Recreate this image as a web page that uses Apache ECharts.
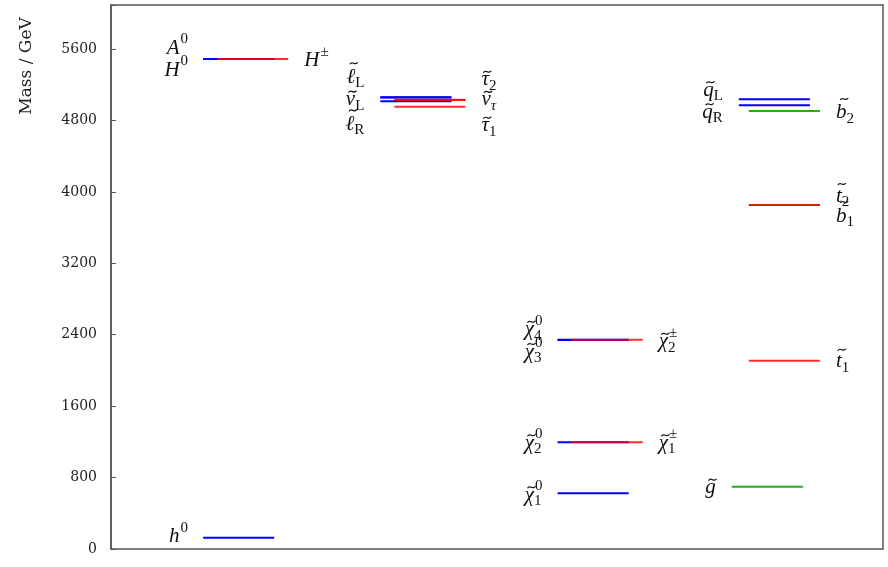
<!DOCTYPE html>
<html>
<head>
<meta charset="utf-8">
<script src="https://cdn.jsdelivr.net/npm/echarts@6/dist/echarts.min.js"></script>
<style>
  html, body { margin: 0; padding: 0; background: #fff; }
  #spectrum { width: 888px; height: 567px; }
</style>
</head>
<body>
<div id="spectrum"></div>
<script>
// particle spectrum data
var particles = ['h0', 'H0', 'A0', 'Hpm',
  'eL', 'nuL', 'eR', 'tau2', 'nutau', 'tau1',
  'chi10', 'chi20', 'chi30', 'chi40', 'chi1pm', 'chi2pm',
  'qL', 'qR', 'b2', 't2', 'b1', 't1', 'gluino'];
var masses = [125, 5488, 5488, 5489,
  5060, 5056, 5014, 5032, 5030, 4954,
  624, 1195, 2341, 2343, 1195, 2343,
  5037, 4970, 4906, 3853, 3852, 2109, 698];
// label pieces: base glyph, superscript, subscript
var labelBase = ['h', 'H', 'A', 'H',
  'ℓ̃', 'ν̃', 'ℓ̃', 'τ̃', 'ν̃', 'τ̃',
  'χ̃', 'χ̃', 'χ̃', 'χ̃', 'χ̃', 'χ̃',
  'q̃', 'q̃', 'b̃', 't̃', 'b̃', 't̃', 'g̃'];
var labelSup = ['0', '0', '0', '±',
  '', '', '', '', '', '',
  '0', '0', '0', '0', '±', '±',
  '', '', '', '', '', '', ''];
var labelSub = ['', '', '', '',
  'L', 'L', 'R', '2', 'τ', '1',
  '1', '2', '3', '4', '1', '2',
  'L', 'R', '2', '2', '1', '1', ''];
var yTicks = [0, 800, 1600, 2400, 3200, 4000, 4800, 5600];

// layout: line start (x axis units), label side, label offset (px), colour
var BLUE = '#0000ff', RED = 'rgba(255,0,0,0.82)', GREEN = '#1fb01f';
var layout = {
  h0: [92, 'l', -1, BLUE], H0: [92, 'l', 11, BLUE], A0: [92, 'l', -11, BLUE], Hpm: [106, 'r', 2, RED],
  eL: [269, 'l', -20, BLUE], nuL: [269, 'l', 2, BLUE], eR: [269, 'l', 23, BLUE],
  tau2: [283, 'r', -20, RED], nutau: [283, 'r', 0, RED], tau1: [283, 'r', 19, RED],
  chi10: [446, 'l', 2, BLUE], chi20: [446, 'l', 1, BLUE], chi30: [446, 'l', 12, BLUE], chi40: [446, 'l', -10, BLUE],
  chi1pm: [460, 'r', 1, RED], chi2pm: [460, 'r', 2, RED],
  qL: [627, 'l', -9, BLUE], qR: [627, 'l', 7, BLUE], b2: [637, 'r', 2, GREEN],
  t2: [637, 'r', -9, RED], b1: [637, 'r', 11, GREEN], t1: [637, 'r', 1, RED],
  gluino: [620, 'l', 1, GREEN]
};
var LINE_LEN = 71;

var SERIF = '"Liberation Serif", "DejaVu Serif", serif';
var BASE_FONT = 'italic 21px ' + SERIF;
var SMALL_FONT = '15px ' + SERIF;
var SMALL_ITALIC = 'italic 15px ' + SERIF;
var TILDE = '\u0303';
var tildeLift = { 'ℓ': -14, 'b': -14, 't': -12 };

var measureCtx = document.createElement('canvas').getContext('2d');
function textWidth(t, font) {
  measureCtx.font = font;
  return measureCtx.measureText(t).width;
}

// draw order: blue, then green, then red on top
var colorRank = {};
colorRank[BLUE] = 0; colorRank[GREEN] = 1; colorRank[RED] = 2;
var order = particles.map(function (p, i) { return i; });
order.sort(function (a, b) {
  return colorRank[layout[particles[a]][3]] - colorRank[layout[particles[b]][3]];
});
var seriesData = order.map(function (i) {
  return { value: [layout[particles[i]][0], masses[i]], idx: i };
});

function renderLevel(params, api) {
  var i = seriesData[params.dataIndex].idx;
  var lay = layout[particles[i]];
  var m = api.value(1);
  var p0 = api.coord([api.value(0), m]);
  var p1 = api.coord([api.value(0) + LINE_LEN, m]);
  var children = [{
    type: 'line',
    shape: { x1: p0[0], y1: p0[1], x2: p1[0], y2: p1[1] },
    style: { stroke: lay[3], lineWidth: 2 }
  }];

  var hasTilde = labelBase[i].indexOf(TILDE) >= 0;
  var base = labelBase[i].replace(TILDE, '');
  var sup = labelSup[i], sub = labelSub[i];
  var subFont = sub === 'τ' ? SMALL_ITALIC : SMALL_FONT;
  var wb = textWidth(base, BASE_FONT);
  var ws = Math.max(sup ? textWidth(sup, SMALL_FONT) : 0, sub ? textWidth(sub, subFont) : 0);
  var total = wb + ws + 1;
  var ly = p0[1] + lay[2];
  var lx = lay[1] === 'l' ? p0[0] - 15 - total : p1[0] + 16;
  children.push({
    type: 'text', x: lx, y: ly,
    style: { text: base, font: BASE_FONT, fill: '#111', align: 'left', verticalAlign: 'middle' }
  });
  if (hasTilde) {
    var lift = tildeLift[base] || -8;
    var cx = lx + wb / 2 + (lift < -10 ? 3 : 2);
    var ty = ly + lift;
    children.push({
      type: 'bezierCurve',
      shape: { x1: cx - 4, y1: ty + 1, x2: cx + 4, y2: ty - 1,
               cpx1: cx - 1.5, cpy1: ty - 3.5, cpx2: cx + 1.5, cpy2: ty + 3.5 },
      style: { stroke: '#111', lineWidth: 1.2, fill: null }
    });
  }
  if (sup) {
    children.push({
      type: 'text', x: lx + wb + 1, y: ly - 9,
      style: { text: sup, font: SMALL_FONT, fill: '#111', align: 'left', verticalAlign: 'middle' }
    });
  }
  if (sub) {
    children.push({
      type: 'text', x: lx + wb, y: ly + 6,
      style: { text: sub, font: subFont, fill: '#111', align: 'left', verticalAlign: 'middle' }
    });
  }
  return { type: 'group', children: children };
}

var chart = echarts.init(document.getElementById('spectrum'));
var option = {
  animation: false,
  grid: {
    left: 111, right: 5, top: 5, bottom: 18,
    show: true, borderColor: '#555', borderWidth: 1.5
  },
  xAxis: {
    type: 'value', min: 0, max: 771,
    show: false
  },
  yAxis: {
    type: 'value', min: 0, max: 6093, interval: 800,
    axisLine: { show: true, lineStyle: { color: '#555', width: 1.5 } },
    axisTick: { show: true, inside: true, length: 5, lineStyle: { color: '#555' } },
    splitLine: { show: false },
    axisLabel: {
      color: '#222', fontSize: 14, margin: 14,
      fontFamily: '"DejaVu Serif", serif',
      formatter: function (v) { return yTicks.indexOf(v) >= 0 ? String(v) : ''; }
    }
  },
  graphic: [{
    type: 'text', x: 27, y: 66, rotation: Math.PI / 2,
    style: {
      text: 'Mass / GeV', font: '17px "DejaVu Serif", serif',
      fill: '#222', align: 'center', verticalAlign: 'middle'
    }
  }],
  series: [{
    type: 'custom',
    renderItem: renderLevel,
    data: seriesData,
    clip: false
  }]
};
chart.setOption(option);
</script>
</body>
</html>
